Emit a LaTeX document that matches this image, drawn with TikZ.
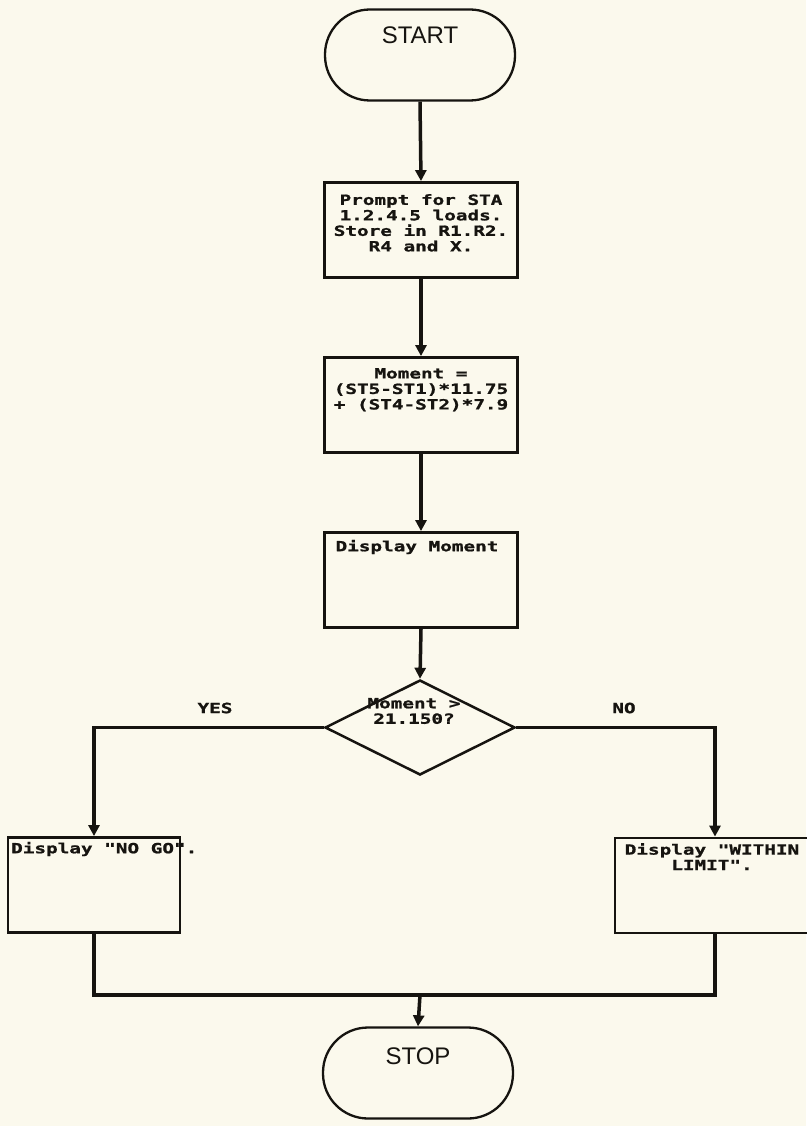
\documentclass[tikz,border=0pt]{standalone}
\usepackage{fontspec}
\newfontfamily\plotfont[FakeStretch=1.38,FakeBold=1.2]{DejaVu Sans Mono Bold}
\newfontfamily\termfont{Liberation Sans}
\usetikzlibrary{arrows.meta,shapes.geometric}
\definecolor{paper}{RGB}{251,249,237}
\definecolor{ink}{RGB}{22,20,16}
\begin{document}
\begin{tikzpicture}[x=1pt,y=-1pt,
  box/.style={draw=ink,line width=2.8pt,minimum width=193pt,minimum height=95pt,inner sep=0pt},
  term/.style={draw=ink,line width=2.3pt,rounded corners=45pt,minimum width=190pt,minimum height=91pt,inner sep=0pt},
  decide/.style={draw=ink,line width=2.5pt,diamond,aspect=2,minimum width=190pt,minimum height=95pt,inner sep=0pt},
  txt/.style={font=\plotfont\fontsize{14}{15.5}\selectfont,align=center,inner sep=0pt,text=ink},
  termtxt/.style={font=\termfont\fontsize{24}{26}\selectfont,inner sep=0pt,text=ink},
  flow/.style={draw=ink,line width=3.5pt,-{Triangle[length=11pt,width=11pt]}},
  wire/.style={draw=ink,line width=3.5pt}]
\fill[paper] (0,0) rectangle (806,1126);
\useasboundingbox (0,0) rectangle (806,1126);

% nodes
\node[term] (start) at (420,55) {};
\node[termtxt] (starttxt) at (420,35) {START};

\node[box] (b1) at (421,230) {};
\node[txt,anchor=north] (b1txt) at (421,194) {Prompt for STA\\1.2.4.5 loads.\\Store in R1.R2.\\R4 and X.};

\node[box] (b2) at (421,405) {};
\node[txt,anchor=north] (b2txt) at (421,368) {Moment =\\(ST5-ST1)*11.75\\+ (ST4-ST2)*7.9};

\node[box] (b3) at (421,580) {};
\node[txt] (b3txt) at (417,547) {Display Moment};

\node[decide] (dec) at (420,727.5) {};
\node[txt] (dectxt) at (414,711) {Moment >\\21.150?};

\node[box,minimum width=172pt] (lbox) at (94,885) {};
\node[txt,anchor=west] (lboxtxt) at (11,849) {Display "NO GO".};

\node[box,minimum width=200pt] (rbox) at (715,885.5) {};
\node[txt,anchor=north] (rboxtxt) at (712,843) {Display "WITHIN\\LIMIT".};

\node[term] (stop) at (418,1073) {};
\node[termtxt] (stoptxt) at (418,1056) {STOP};

\node[txt] (yes) at (215,708) {YES};
\node[txt] (no) at (624,708) {NO};

% connectors
\draw[flow] (start.south) -- (b1.north);
\draw[flow] (b1.south) -- (b2.north);
\draw[flow] (b2.south) -- (b3.north);
\draw[flow] (b3.south) -- (dec.north);
\draw[flow] (dec.west) -| (lbox.north);
\draw[flow] (dec.east) -| (rbox.north);
\coordinate (merge) at (420,995);
\draw[wire] (lbox.south) |- (merge);
\draw[wire] (rbox.south) |- (merge);
\draw[flow] (merge) -- (stop.north);
\end{tikzpicture}
\end{document}
